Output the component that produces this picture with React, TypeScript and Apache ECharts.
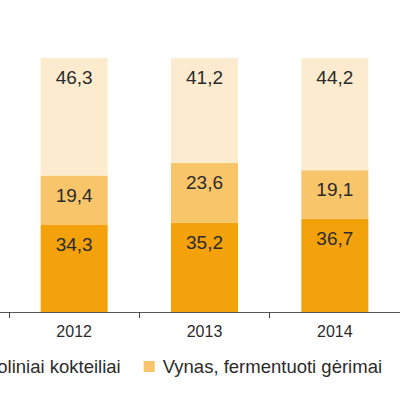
import React, { useEffect, useRef } from "react";
import * as echarts from "echarts";

const categories = ["2012", "2013", "2014"];
const seriesNames = ["Alkoholiniai kokteiliai", "Vynas, fermentuoti gėrimai", "Alus"];
const spiritValues = [34.3, 35.2, 36.7];
const wineValues = [19.4, 23.6, 19.1];
const beerValues = [46.3, 41.2, 44.2];
const colors = ["#F4A20C", "#F9C56B", "#FDEBCF"];

const FONT = "Liberation Sans, Arial, sans-serif";

export default function App() {
  const ref = useRef<HTMLDivElement>(null);
  useEffect(() => {
    if (!ref.current) return;
    const chart = echarts.init(ref.current, undefined, { renderer: "svg" });
    const allValues = [spiritValues, wineValues, beerValues];
    const label = {
      show: true,
      position: "insideTop" as const,
      distance: 10,
      color: "#2b2b2b",
      fontSize: 19,
      fontFamily: FONT,
      formatter: (p: any) => String(p.value).replace(".", ","),
    };
    chart.setOption({
      animation: false,
      backgroundColor: "#ffffff",
      grid: { left: 9, right: -8, top: 58, bottom: 81, containLabel: false },
      legend: {
        left: -68,
        top: 357,
        width: 1200,
        padding: 0,
        itemGap: 23,
        itemWidth: 11,
        itemHeight: 11,
        icon: "rect",
        textStyle: { fontSize: 18.5, color: "#2b2b2b", fontFamily: FONT, padding: [0, 0, 0, 3] },
        data: seriesNames,
      },
      xAxis: {
        type: "category",
        data: categories,
        axisLine: { show: true, lineStyle: { color: "#595959", width: 1 } },
        axisTick: { show: true, length: 6, lineStyle: { color: "#404040" } },
        axisLabel: { color: "#2b2b2b", fontSize: 16, fontFamily: FONT, margin: 11 },
      },
      yAxis: {
        type: "value",
        min: 0,
        max: 100,
        show: false,
        splitLine: { show: false },
      },
      graphic: [
        {
          type: "line",
          shape: { x1: 0, y1: 312.5, x2: 10, y2: 312.5 },
          style: { stroke: "#595959", lineWidth: 1 },
        },
      ],
      series: seriesNames.map((name, i) => ({
        name,
        type: "bar",
        stack: "total",
        barWidth: 67,
        data: allValues[i],
        itemStyle: { color: colors[i] },
        label,
      })),
    });
    return () => chart.dispose();
  }, []);
  return (
    <div
      ref={ref}
      style={{ position: "absolute", left: 0, top: 0, width: 400, height: 393 }}
    />
  );
}
